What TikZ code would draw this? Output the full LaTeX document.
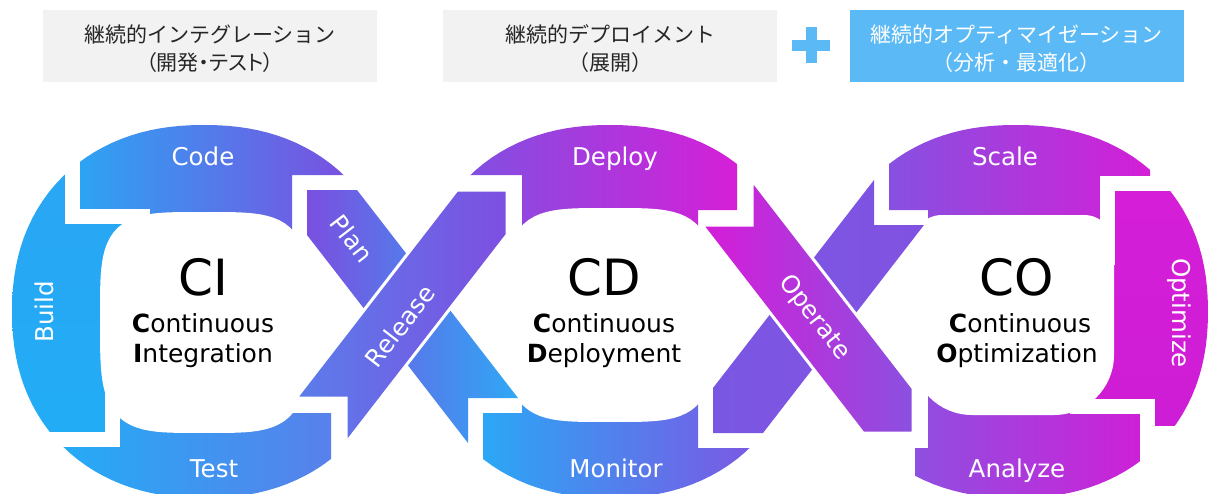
\documentclass[tikz,border=0pt]{standalone}
\usepackage{fontspec}
\setmainfont{DejaVu Sans}
\newfontfamily\jpfont{Noto Sans CJK JP}
\newfontfamily\jpnarrow[RawFeature=+palt]{Noto Sans CJK JP}
\definecolor{buildT}{HTML}{2AA5F4}
\definecolor{buildB}{HTML}{22ADF6}
\definecolor{codeL}{HTML}{2BA6F4}
\definecolor{codeR}{HTML}{7B4FE0}
\definecolor{testL}{HTML}{22ADF6}
\definecolor{testR}{HTML}{5A7FEA}
\definecolor{planL}{HTML}{7A4FE0}
\definecolor{planR}{HTML}{2FA8F5}
\definecolor{relL}{HTML}{5B7DEA}
\definecolor{relR}{HTML}{7D4FE1}
\definecolor{depL}{HTML}{7F50E1}
\definecolor{depR}{HTML}{D81ED7}
\definecolor{monL}{HTML}{27ABF6}
\definecolor{monR}{HTML}{7D56E3}
\definecolor{opL}{HTML}{D61CD8}
\definecolor{opR}{HTML}{8B50E0}
\definecolor{backL}{HTML}{7A57E3}
\definecolor{backR}{HTML}{8152E1}
\definecolor{scaL}{HTML}{8452E1}
\definecolor{scaR}{HTML}{D41FD7}
\definecolor{optT}{HTML}{D51ED7}
\definecolor{optB}{HTML}{CE1DD6}
\definecolor{anaL}{HTML}{8F4FE0}
\definecolor{anaR}{HTML}{D01FD6}
\definecolor{hdrgray}{HTML}{F2F2F2}
\definecolor{hdrblue}{HTML}{5BBAF5}
\definecolor{hdrtext}{HTML}{262626}
\tikzset{
  % rounded-square outline of one loop
  outerring/.style 2 args={insert path={plot[domain=1.5:358.5,samples=120,variable=\t]
      ({#1+supr(\t)*cos(\t)},{#2+supr(\t)*sin(\t)}) -- cycle}},
  % squircle opening: centre x, centre y, half width, top and bottom half heights
  holeS/.style n args={5}{insert path={plot[domain=1.5:358.5,samples=120,variable=\t]
      ({#1+holer(\t,#3,#4,#5)*cos(\t)},{#2+holer(\t,#3,#4,#5)*sin(\t)}) -- cycle}},
  % rounded-rectangle opening: left, right, top, bottom, top radius, bottom radius
  holeR/.style n args={6}{insert path={({#1+#5},#3) -- ({#2-#5},#3)
      .. controls ({#2-0.448*#5},#3) and (#2,{#3+0.448*#5}) .. (#2,{#3+#5})
      -- (#2,{#4-#6})
      .. controls (#2,{#4-0.448*#6}) and ({#2-0.448*#6},#4) .. ({#2-#6},#4)
      -- ({#1+#6},#4)
      .. controls ({#1+0.448*#6},#4) and (#1,{#4-0.448*#6}) .. (#1,{#4-#6})
      -- (#1,{#3+#5})
      .. controls (#1,{#3+0.448*#5}) and ({#1+0.448*#5},#3) .. ({#1+#5},#3) -- cycle}},
  % parts of each loop that stay (the crossing side is taken by the bands)
  keepI/.style={insert path={(-200,-200) -- (600,-200) -- (600,175) -- (292,175) -- (292,413)
      -- (331,413) -- (331,800) -- (-200,800) -- cycle}},
  keepII/.style={insert path={(-200,-200) -- (737,-200) -- (737,210) -- (698,210) -- (698,448)
      -- (1400,448) -- (1400,800) -- (483,800) -- (483,413) -- (522,413) -- (522,175)
      -- (-200,175) -- cycle}},
  keepIII/.style={insert path={(889,-200) -- (1400,-200) -- (1400,800) -- (500,800) -- (500,448)
      -- (928,448) -- (928,210) -- (889,210) -- cycle}},
  jgap/.style={draw=white, line width=15pt, line join=miter, line cap=butt},
  band/.style={draw=white, line width=3pt, line join=miter},
  lbl/.style={text=white, font=\fontsize{24.5}{28}\selectfont, inner sep=0pt},
  big/.style={text=black, font=\fontsize{50}{60}\selectfont, inner sep=0pt},
  sub/.style={text=black, font=\fontsize{25}{30}\selectfont, inner sep=0pt},
  hdrbox/.style={minimum width=334pt, minimum height=72pt, inner sep=0pt},
  hdrtxt/.style={align=center, font=\jpfont\fontsize{21}{28}\selectfont, inner sep=0pt}
}
\begin{document}
\begin{tikzpicture}[x=1pt,y=-1pt,
  declare function={
    supr(\t)=192/((abs(cos(\t)))^2.2+(abs(1.0295*sin(\t)))^2.2)^(1/2.2);
    holer(\t,\pa,\pt,\pb)=\pa/((abs(cos(\t)))^4+(abs(sin(\t))*\pa/(\pb*(sin(\t)>0)+\pt*(sin(\t)<0)))^4)^(0.25);
  }]
\useasboundingbox (0,0) rectangle (1212,493);
\clip (0,0) rectangle (1212,493);

% ---------- headers ----------
\node[hdrbox, fill=hdrgray] (hci) at (210,46) {};
\node[hdrtxt, text=hdrtext] (tci) at (210,49) {継続的インテグレーション\\{\jpnarrow（開発・テスト）}};
\node[hdrbox, fill=hdrgray] (hcd) at (610,46) {};
\node[hdrtxt, text=hdrtext] (tcd) at (610,49) {継続的デプロイメント\\（展開）};
\fill[hdrblue] (792,39.5) rectangle (830,50.5);
\fill[hdrblue] (805.5,27) rectangle (816.5,63);
\node[hdrbox, fill=hdrblue] (hco) at (1016.5,46) {};
\node[hdrtxt, text=white] (tco) at (1016.5,49) {継続的オプティマイゼーション\\（分析・最適化）};

% ---------- CI loop ----------
\begin{scope}% Code
  \clip (72.5,-77) -- (720,-77) -- (720,311) -- (170,311) -- (170,216.5) -- (72.5,216.5) -- cycle;
  \clip[keepI]; \clip[outerring={204}{311.5}];
  \shade[left color=codeL, right color=codeR] (72,105) rectangle (350,240);
\end{scope}
\begin{scope}% Build
  \clip (112.5,439.5) -- (-180,439.5) -- (-180,-77) -- (72.5,-77) -- (72.5,216.5) -- (170,216.5)
        -- (170,363) -- (112.5,363) -- cycle;
  \clip[keepI]; \clip[outerring={204}{311.5}];
  \shade[top color=buildT, bottom color=buildB] (5,160) rectangle (125,450);
\end{scope}
\begin{scope}% Test
  \clip (720,723) -- (-180,723) -- (-180,439.5) -- (112.5,439.5) -- (112.5,363) -- (170,363)
        -- (170,311) -- (720,311) -- cycle;
  \clip[keepI]; \clip[outerring={204}{311.5}];
  \shade[left color=testL, right color=testR] (50,380) rectangle (340,505);
\end{scope}

% ---------- CD loop ----------
\begin{scope}% Deploy
  \clip (300,-100) rectangle (900,312);
  \clip[keepII]; \clip[outerring={610}{311.5}];
  \shade[left color=depL, right color=depR] (465,105) rectangle (745,240);
\end{scope}
\begin{scope}% Monitor
  \clip (300,312) rectangle (900,700);
  \clip[keepII]; \clip[outerring={610}{311.5}];
  \shade[left color=monL, right color=monR] (470,390) rectangle (760,505);
\end{scope}

% ---------- CO loop ----------
\begin{scope}% Scale
  \clip (500,-100) -- (1400,-100) -- (1400,183.5) -- (1107.5,183.5) -- (1107.5,260) -- (1050,260)
        -- (1050,312) -- (500,312) -- cycle;
  \clip[keepIII]; \clip[outerring={1016}{311.5}];
  \shade[left color=scaL, right color=scaR] (880,105) rectangle (1150,240);
\end{scope}
\begin{scope}% Optimize
  \clip (1107.5,183.5) -- (1400,183.5) -- (1400,700) -- (1147.5,700) -- (1147.5,406.5)
        -- (1050,406.5) -- (1050,260) -- (1107.5,260) -- cycle;
  \clip[keepIII]; \clip[outerring={1016}{311.5}];
  \shade[top color=optT, bottom color=optB] (1090,165) rectangle (1215,425);
\end{scope}
\begin{scope}% Analyze
  \clip (500,312) -- (1050,312) -- (1050,406.5) -- (1147.5,406.5) -- (1147.5,700) -- (500,700) -- cycle;
  \clip[keepIII]; \clip[outerring={1016}{311.5}];
  \shade[left color=anaL, right color=anaR] (915,390) rectangle (1150,505);
\end{scope}

% inner openings
\fill[white][holeS={204}{318}{104}{106}{115}];
\fill[white][holeS={610}{315}{104}{107}{107}];
\fill[white][holeR={912}{1114}{215}{415}{30}{60}];

% chevron gaps between neighbouring arcs
\draw[jgap] (72.5,150) -- (72.5,216.5) -- (150,216.5);
\draw[jgap] (112.5,375) -- (112.5,439.5) -- (40,439.5);
\draw[jgap] (1107.5,265) -- (1107.5,183.5) -- (1185,183.5);
\draw[jgap] (1070,406.5) -- (1147.5,406.5) -- (1147.5,480);

% ---------- crossing bands ----------
\shade[left color=planL, right color=planR]
  (307,190) -- (357,190) -- (518,398) -- (468,398) -- (468,443) -- (307,235) -- cycle;
\shade[left color=backL, right color=backR]
  (713,433) -- (763,433) -- (924,225) -- (874,225) -- (874,180) -- (713,388) -- cycle;
\shade[band, left color=relL, right color=relR]
  (507,190) -- (457,190) -- (296,398) -- (346,398) -- (346,443) -- (507,235) -- cycle;
\shade[band, left color=opL, right color=opR]
  (913,433) -- (863,433) -- (702,225) -- (752,225) -- (752,180) -- (913,388) -- cycle;

% ---------- labels ----------
\node[lbl, anchor=base] (lcode) at (203,165) {Code};
\node[lbl, anchor=base, rotate=90] (lbuild) at (53,312) {Build};
\node[lbl, anchor=base] (ltest) at (214,477) {Test};
\node[lbl, rotate=-52.3] (lplan) at (352,238.5) {Plan};
\node[lbl, rotate=52.3] (lrel) at (400,326) {Release};
\node[lbl, anchor=base] (ldep) at (615,165) {Deploy};
\node[lbl, anchor=base] (lmon) at (616,477) {Monitor};
\node[lbl, rotate=-52.3, text depth=0pt] (lop) at (816,316) {Operate};
\node[lbl, anchor=base] (lsca) at (1005,165) {Scale};
\node[lbl, anchor=base, rotate=-90] (lopt) at (1172.5,313) {Optimize};
\node[lbl, anchor=base] (lana) at (1017,477) {Analyze};

\node[big, anchor=base] (ci) at (203,295) {CI};
\node[sub, anchor=base] (ci1) at (203,332) {\textbf{C}ontinuous};
\node[sub, anchor=base] (ci2) at (203,362) {\textbf{I}ntegration};
\node[big, anchor=base] (cd) at (604,295) {CD};
\node[sub, anchor=base] (cd1) at (604,332) {\textbf{C}ontinuous};
\node[sub, anchor=base] (cd2) at (604,362) {\textbf{D}eployment};
\node[big, anchor=base] (co) at (1017,295) {CO};
\node[sub, anchor=base] (co1) at (1020,332) {\textbf{C}ontinuous};
\node[sub, anchor=base] (co2) at (1017,362) {\textbf{O}ptimization};
\end{tikzpicture}
\end{document}
